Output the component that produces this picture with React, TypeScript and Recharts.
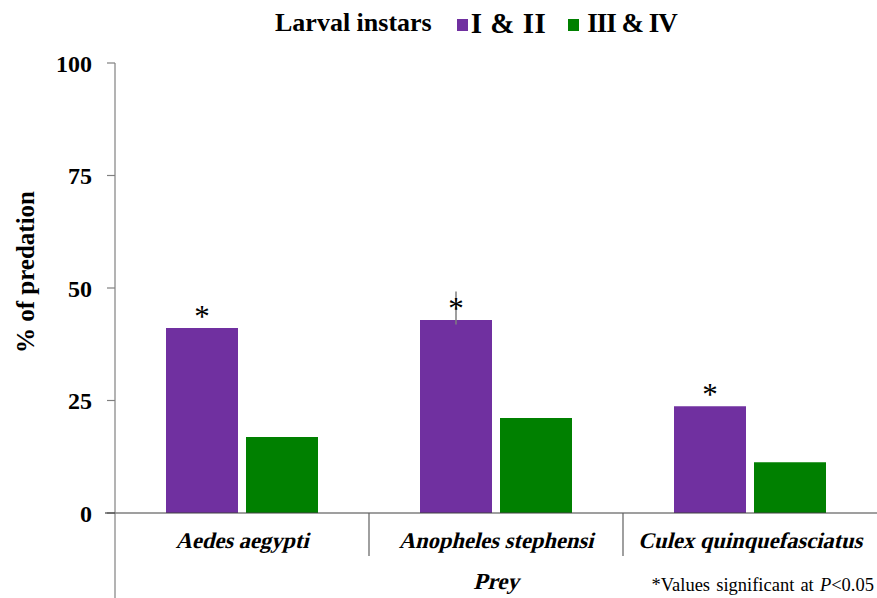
import { Bar, BarChart, ErrorBar, LabelList, Legend, XAxis, YAxis } from 'recharts'

const categories = ['Aedes aegypti', 'Anopheles stephensi', 'Culex quinquefasciatus']
const instarsEarly = [41.1, 42.9, 23.7]
const instarsLate = [16.9, 21.1, 11.3]
const errorsEarly: [number, number][] = [[0, 0], [1.0, 6.3], [0, 0]]
const significance = ['*', '*', '*']
const yTicks = [0, 25, 50, 75, 100]

const SERIES = [
  { key: 'early', name: 'I & II', color: '#7030a0' },
  { key: 'late', name: 'III & IV', color: '#008000' },
]

const FONT = '"Liberation Serif", "Times New Roman", serif'
const W = 877
const H = 598
const PLOT_LEFT = 115
const PLOT_TOP = 63
const PLOT_BOTTOM = 513
const SKEW = 'skewX(-14)'

const data = categories.map((name, i) => ({
  name,
  early: instarsEarly[i],
  late: instarsLate[i],
  errEarly: errorsEarly[i],
  sig: significance[i],
}))

function LegendBox() {
  return (
    <div
      style={{
        height: PLOT_TOP,
        display: 'flex',
        alignItems: 'flex-start',
        paddingLeft: 275,
        paddingTop: 8,
        boxSizing: 'border-box',
        fontFamily: FONT,
        fontWeight: 'bold',
        fontSize: 26,
        lineHeight: '30px',
        color: '#000',
      }}
    >
      <span style={{ marginRight: 25 }}>Larval instars</span>
      {SERIES.map((s, i) => (
        <span key={s.key} style={{ display: 'flex', alignItems: 'center', marginRight: 22 }}>
          <span
            style={{
              width: 11,
              height: 12,
              marginTop: 3,
              marginRight: i === 0 ? 3 : 8,
              backgroundColor: s.color,
              display: 'inline-block',
            }}
          />
          <span style={{ fontSize: i === 0 ? 29 : 27, letterSpacing: i === 0 ? 0.5 : -1 }}>{s.name}</span>
        </span>
      ))}
    </div>
  )
}

function Star(props: any) {
  const { x, y, width, value } = props
  if (!value) return null
  return (
    <text
      x={x + width / 2}
      y={y - 1}
      textAnchor="middle"
      fontFamily={FONT}
      fontSize={31}
      fill="#000"
    >
      {value}
    </text>
  )
}

function CategoryTick(props: any) {
  const { x, y, payload } = props
  return (
    <g transform={`translate(${x},${y + 15})`}>
      <text
        transform={SKEW}
        textAnchor="middle"
        fontFamily={FONT}
        fontSize={22.5}
        fontWeight="bold"
        fill="#000"
      >
        {payload.value}
      </text>
    </g>
  )
}

export default function App() {
  const bandWidth = (W - PLOT_LEFT) / categories.length
  const dividers = categories.slice(1).map((_, i) => PLOT_LEFT + bandWidth * (i + 1))

  return (
    <div style={{ position: 'absolute', left: 0, top: 0, width: W, height: H, background: '#fff' }}>
      <BarChart
        width={W}
        height={H}
        data={data}
        margin={{ top: 0, right: 0, left: 0, bottom: 0 }}
        barCategoryGap={51}
        barGap={8}
      >
        <Legend
          verticalAlign="top"
          align="left"
          height={PLOT_TOP}
          wrapperStyle={{ top: 0, left: 0, width: W, height: PLOT_TOP }}
          content={() => <LegendBox />}
        />
        <XAxis
          dataKey="name"
          height={H - PLOT_BOTTOM}
          tickLine={false}
          tickSize={0}
          tickMargin={20}
          axisLine={{ stroke: '#404040', strokeWidth: 1.2 }}
          tick={<CategoryTick />}
          interval={0}
        />
        <YAxis
          width={PLOT_LEFT}
          domain={[0, 100]}
          ticks={yTicks}
          tickSize={8}
          tickMargin={15}
          axisLine={{ stroke: '#808080', strokeWidth: 1.2 }}
          tickLine={{ stroke: '#808080', strokeWidth: 1.2 }}
          tick={{ fontFamily: FONT, fontSize: 24, fontWeight: 'bold', fill: '#000' }}
        />
        <Bar dataKey="early" name="I & II" fill={SERIES[0].color} isAnimationActive={false}>
          <ErrorBar dataKey="errEarly" width={0} stroke="#7f7f7f" strokeWidth={1.5} direction="y" />
          <LabelList dataKey="sig" content={Star} />
        </Bar>
        <Bar dataKey="late" name="III & IV" fill={SERIES[1].color} isAnimationActive={false} />
      </BarChart>

      <svg
        width={W}
        height={H}
        style={{ position: 'absolute', left: 0, top: 0, pointerEvents: 'none' }}
      >
        <line x1={PLOT_LEFT} x2={PLOT_LEFT} y1={PLOT_BOTTOM} y2={H} stroke="#808080" strokeWidth={1.2} />
        <line x1={105} x2={PLOT_LEFT} y1={PLOT_BOTTOM} y2={PLOT_BOTTOM} stroke="#404040" strokeWidth={1.2} />
        {dividers.map((x) => (
          <line key={x} x1={x} x2={x} y1={PLOT_BOTTOM} y2={556} stroke="#606060" strokeWidth={1.2} />
        ))}
        <text
          x={25}
          y={272}
          transform="rotate(-90 25 272)"
          textAnchor="middle"
          dominantBaseline="central"
          fontFamily={FONT}
          fontSize={25}
          fontWeight="bold"
          fill="#000"
        >
          % of predation
        </text>
        <g transform={`translate(${(PLOT_LEFT + W) / 2},589)`}>
          <text
            transform={SKEW}
            textAnchor="middle"
            fontFamily={FONT}
            fontSize={23}
            fontWeight="bold"
            fill="#000"
          >
            Prey
          </text>
        </g>
        <text x={874} y={591} textAnchor="end" fontFamily={FONT} fontSize={18.5} fill="#000" wordSpacing={1.5}>
          *Values significant at{' '}
          <tspan fontStyle="italic">P</tspan>&lt;0.05
        </text>
      </svg>
    </div>
  )
}
